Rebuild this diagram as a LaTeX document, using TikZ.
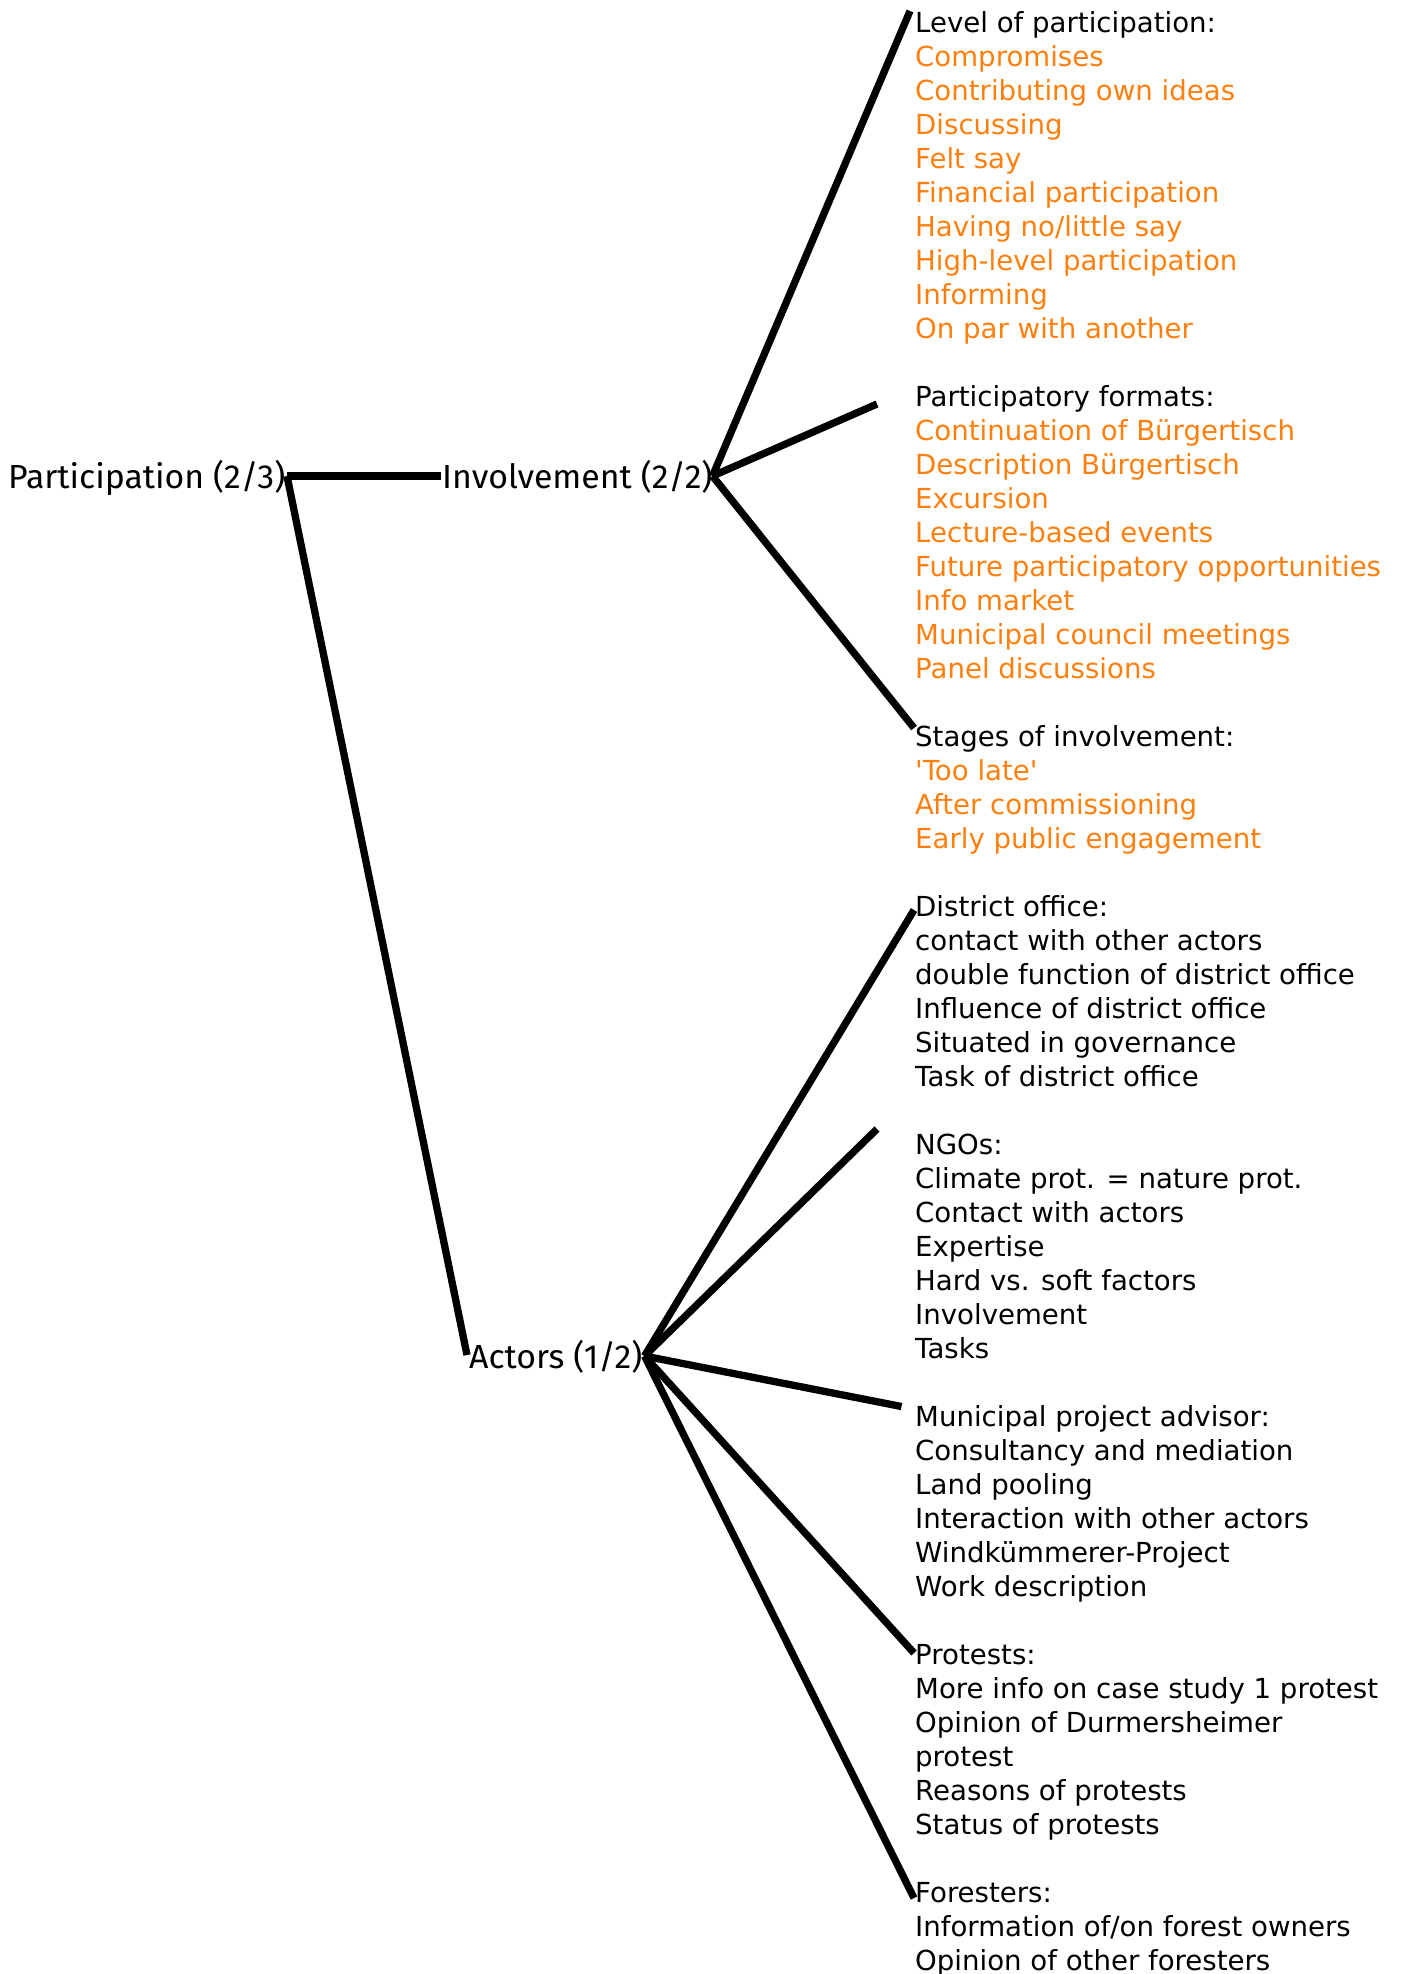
\documentclass[tikz,border=0pt]{standalone}
\usepackage{fontspec}
\setmainfont{DejaVu Sans}[Ligatures=TeXOff]
\newfontfamily\headfont{Fira Sans}[FakeStretch=1.012]
\definecolor{codeorange}{RGB}{255,127,14}
\newcommand{\oi}[1]{\textcolor{codeorange}{#1}}
\tikzset{
  branch/.style={line width=7.3pt, line cap=butt, line join=miter},
  headnode/.style={anchor=base west, inner sep=0pt, font=\headfont\fontsize{33.4}{40}\selectfont},
  itemblock/.style={anchor=base west, inner sep=0pt, font=\fontsize{27.6}{34}\selectfont},
}
\begin{document}
\begin{tikzpicture}[x=1pt, y=-1pt]
\useasboundingbox (0,0) rectangle (1401,1974);

% tree nodes
\node[headnode] (part) at (8,488) {Participation (2/3)};
\node[headnode] (inv)  at (442,488) {Involvement (2/2)};
\node[headnode] (act)  at (469,1368) {Actors (1/2)};

% branching points and ends of the branches
\coordinate (jP) at (287,476);
\coordinate (eI) at (441,476);
\coordinate (eA) at (467,1355);
\coordinate (jI) at (712.5,476);
\coordinate (jA) at (644.5,1356);
\coordinate (cLevel)  at (910,11);
\coordinate (cFormat) at (877,404);
\coordinate (cStage)  at (914,728);
\coordinate (cDist)   at (914,910);
\coordinate (cNGO)    at (877,1129);
\coordinate (cMuni)   at (901.5,1406.5);
\coordinate (cProt)   at (914,1653);
\coordinate (cFor)    at (914,1898);

% code lists (baselines on a 34pt grid starting at 32.5)
\node[itemblock] (level) at (915,32.5) {\begin{tabular}[t]{@{}l@{}}
Level of participation:\\
\oi{Compromises}\\
\oi{Contributing own ideas}\\
\oi{Discussing}\\
\oi{Felt say}\\
\oi{Financial participation}\\
\oi{Having no/little say}\\
\oi{High-level participation}\\
\oi{Informing}\\
\oi{On par with another}
\end{tabular}};

\node[itemblock] (formats) at (915,406.5) {\begin{tabular}[t]{@{}l@{}}
Participatory formats:\\
\oi{Continuation of Bürgertisch}\\
\oi{Description Bürgertisch}\\
\oi{Excursion}\\
\oi{Lecture-based events}\\
\oi{Future participatory opportunities}\\
\oi{Info market}\\
\oi{Municipal council meetings}\\
\oi{Panel discussions}
\end{tabular}};

\node[itemblock] (stages) at (915,746.5) {\begin{tabular}[t]{@{}l@{}}
Stages of involvement:\\
\oi{'Too late'}\\
\oi{After commissioning}\\
\oi{Early public engagement}
\end{tabular}};

\node[itemblock] (district) at (915,916.5) {\begin{tabular}[t]{@{}l@{}}
District office:\\
contact with other actors\\
double function of district office\\
Influence of district office\\
Situated in governance\\
Task of district office
\end{tabular}};

\node[itemblock] (ngos) at (915,1154.5) {\begin{tabular}[t]{@{}l@{}}
NGOs:\\
Climate prot. = nature prot.\\
Contact with actors\\
Expertise\\
Hard vs. soft factors\\
Involvement\\
Tasks
\end{tabular}};

\node[itemblock] (advisor) at (915,1426.5) {\begin{tabular}[t]{@{}l@{}}
Municipal project advisor:\\
Consultancy and mediation\\
Land pooling\\
Interaction with other actors\\
Windkümmerer-Project\\
Work description
\end{tabular}};

\node[itemblock] (protests) at (915,1664.5) {\begin{tabular}[t]{@{}l@{}}
Protests:\\
More info on case study 1 protest\\
Opinion of Durmersheimer\\
protest\\
Reasons of protests\\
Status of protests
\end{tabular}};

\node[itemblock] (foresters) at (915,1902.5) {\begin{tabular}[t]{@{}l@{}}
Foresters:\\
Information of/on forest owners\\
Opinion of other foresters
\end{tabular}};

% branches
\draw[branch] (jP) -- (eI);
\draw[branch] (jP) -- (eA);
\draw[branch] (jI) -- (cLevel);
\draw[branch] (jI) -- (cFormat);
\draw[branch] (jI) -- (cStage);
\draw[branch] (jA) -- (cDist);
\draw[branch] (jA) -- (cNGO);
\draw[branch] (jA) -- (cMuni);
\draw[branch] (jA) -- (cProt);
\draw[branch] (jA) -- (cFor);
\end{tikzpicture}
\end{document}
